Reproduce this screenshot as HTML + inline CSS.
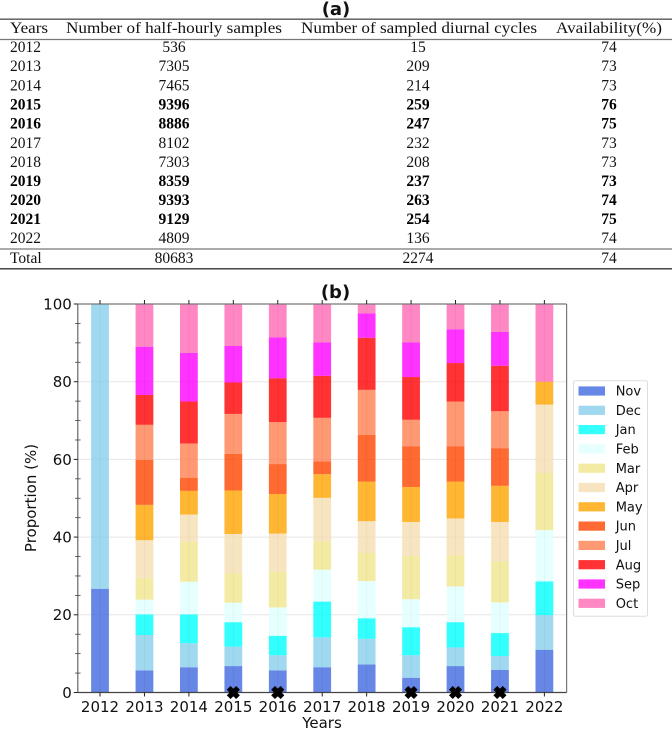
<!DOCTYPE html>
<html lang="en">
<head>
<meta charset="utf-8">
<title>Sample table and monthly proportion chart</title>
<style>
html,body{margin:0;padding:0;background:#fff;width:672px;height:729px;overflow:hidden}
svg{display:block}
.tb{font-family:"Liberation Serif",serif;font-size:15.5px;fill:#111}
.tb text{text-anchor:middle}
.tb .first{text-anchor:start}
.b{font-weight:bold;fill:#000}
.ax{font-family:"DejaVu Sans",sans-serif;fill:#111}
</style>
</head>
<body>
<svg id="root" width="672" height="729" viewBox="0 0 672 729" xmlns="http://www.w3.org/2000/svg">
  <text x="336" y="15" text-anchor="middle" font-family="'DejaVu Sans',sans-serif" font-weight="bold" font-size="18" fill="#111">(a)</text>
  <g class="tb">
    <line x1="0" x2="672" y1="19.2" y2="19.2" stroke="#555" stroke-width="1.4"/>
    <line x1="0" x2="672" y1="39.5" y2="39.5" stroke="#777" stroke-width="1.2"/>
    <line x1="0" x2="672" y1="249" y2="249" stroke="#555" stroke-width="1"/>
    <line x1="0" x2="672" y1="268.8" y2="268.8" stroke="#333" stroke-width="1.4"/>
    <g>
      <text class="first" x="10" y="33" textLength="38" lengthAdjust="spacingAndGlyphs">Years</text>
      <text x="174" y="33" textLength="216" lengthAdjust="spacingAndGlyphs">Number of half-hourly samples</text>
      <text x="419" y="33" textLength="236" lengthAdjust="spacingAndGlyphs">Number of sampled diurnal cycles</text>
      <text x="609" y="33" textLength="106" lengthAdjust="spacingAndGlyphs">Availability(%)</text>
    </g>
    <g><text class="first" x="10" y="52">2012</text><text x="174" y="52">536</text><text x="418" y="52">15</text><text x="609" y="52">74</text></g>
    <g><text class="first" x="10" y="71">2013</text><text x="174" y="71">7305</text><text x="418" y="71">209</text><text x="609" y="71">73</text></g>
    <g><text class="first" x="10" y="90.5">2014</text><text x="174" y="90.5">7465</text><text x="418" y="90.5">214</text><text x="609" y="90.5">73</text></g>
    <g class="b"><text class="first" x="10" y="109.5">2015</text><text x="174" y="109.5">9396</text><text x="418" y="109.5">259</text><text x="609" y="109.5">76</text></g>
    <g class="b"><text class="first" x="10" y="128.5">2016</text><text x="174" y="128.5">8886</text><text x="418" y="128.5">247</text><text x="609" y="128.5">75</text></g>
    <g><text class="first" x="10" y="148">2017</text><text x="174" y="148">8102</text><text x="418" y="148">232</text><text x="609" y="148">73</text></g>
    <g><text class="first" x="10" y="167">2018</text><text x="174" y="167">7303</text><text x="418" y="167">208</text><text x="609" y="167">73</text></g>
    <g class="b"><text class="first" x="10" y="186">2019</text><text x="174" y="186">8359</text><text x="418" y="186">237</text><text x="609" y="186">73</text></g>
    <g class="b"><text class="first" x="10" y="205">2020</text><text x="174" y="205">9393</text><text x="418" y="205">263</text><text x="609" y="205">74</text></g>
    <g class="b"><text class="first" x="10" y="224">2021</text><text x="174" y="224">9129</text><text x="418" y="224">254</text><text x="609" y="224">75</text></g>
    <g><text class="first" x="10" y="243">2022</text><text x="174" y="243">4809</text><text x="418" y="243">136</text><text x="609" y="243">74</text></g>
    <g><text class="first" x="10" y="263">Total</text><text x="174" y="263">80683</text><text x="418" y="263">2274</text><text x="609" y="263">74</text></g>
  </g>
  <text x="335.5" y="298" text-anchor="middle" font-family="'DejaVu Sans',sans-serif" font-weight="bold" font-size="18" fill="#111">(b)</text>
  <g id="chart"></g>
</svg>
<script>
const years = ['2012','2013','2014','2015','2016','2017','2018','2019','2020','2021','2022'];
const months = ['Nov','Dec','Jan','Feb','Mar','Apr','May','Jun','Jul','Aug','Sep','Oct'];
const monthColors = ['royalblue','skyblue','cyan','lightcyan','khaki','wheat','orange','orangered','coral','red','magenta','hotpink'];
const nov = [26.7,5.7,6.5,6.8,5.7,6.5,7.2,3.8,6.8,5.8,11];
const dec = [73.3,9.1,6.2,5.0,3.9,7.7,6.6,5.8,4.8,3.6,8.9];
const jan = [0,5.3,7.4,6.3,5.0,9.2,5.3,7.2,6.5,5.9,8.7];
const feb = [0,3.8,8.4,5.0,7.3,8.2,9.6,7.2,9.2,7.9,13.2];
const mar = [0,5.6,10.3,7.6,9.2,7.3,7.3,11.2,8.0,10.5,14.7];
const apr = [0,9.7,7.0,10.1,9.8,11.2,8.1,8.7,9.5,10.2,17.6];
const may = [0,9.1,6.1,11.2,10.2,6.1,10.2,9.0,9.5,9.3,5.9];
const jun = [0,11.6,3.4,9.4,7.7,3.3,12.0,10.5,9.1,9.7,0];
const jul = [0,9.0,8.8,10.3,10.8,11.2,11.6,6.8,11.5,9.5,0];
const aug = [0,7.7,10.8,8.1,11.3,10.8,13.4,11.0,9.9,11.7,0];
const sep = [0,12.4,12.5,9.4,10.5,8.6,6.3,8.9,8.7,8.7,0];
const oct = [0,11.0,12.6,10.8,8.6,9.9,2.4,9.9,6.5,7.2,20.0];
const series = [nov,dec,jan,feb,mar,apr,may,jun,jul,aug,sep,oct];
const markedYears = ['2015','2016','2019','2020','2021'];
const yMajorTicks = [0,20,40,60,80,100];
const yMinorTicks = [5,10,15,25,30,35,45,50,55,65,70,75,85,90,95];

const NS = 'http://www.w3.org/2000/svg';
const chart = document.getElementById('chart');
const plot = {left:77.8, right:566.6, top:304, bottom:692.5};
function xScale(i){ return plot.left + (i + 0.5) * (plot.right - plot.left) / years.length; }
function yScale(v){ return plot.bottom - v * (plot.bottom - plot.top) / 100; }
function mk(tag, attrs, parent){
  const el = document.createElementNS(NS, tag);
  for (const k in attrs) el.setAttribute(k, attrs[k]);
  (parent || chart).appendChild(el);
  return el;
}
const bandW = (plot.right - plot.left) / years.length * 0.4;

// gridlines
yMajorTicks.slice(1, -1).forEach(function(t){
  const g = mk('line', {x1:plot.left, x2:plot.right, y1:yScale(t), y2:yScale(t), stroke:'#000', 'stroke-opacity':0.1, 'stroke-width':1});
  
  
});
years.forEach(function(y, i){
  const g = mk('line', {x1:xScale(i), x2:xScale(i), y1:plot.top, y2:plot.bottom, stroke:'#000', 'stroke-opacity':0.16, 'stroke-width':1});
  
  
});

// stacked bars
years.forEach(function(y, i){
  let base = 0;
  series.forEach(function(vals, s){
    const v = vals[i];
    if (v > 0) {
      const r = mk('rect', {x:xScale(i) - bandW / 2, width:bandW, y:yScale(base + v), height:yScale(base) - yScale(base + v), fill:monthColors[s], 'fill-opacity':0.8});
      
      
    }
    base += v;
  });
});

// spines
const spineTop = mk('line', {x1:plot.left, x2:plot.right, y1:plot.top, y2:plot.top, stroke:'#777', 'stroke-width':1.2});


const spineRight = mk('line', {x1:plot.right, x2:plot.right, y1:plot.top, y2:plot.bottom, stroke:'#777', 'stroke-width':1.2});


const spineLeft = mk('line', {x1:plot.left, x2:plot.left, y1:plot.top, y2:plot.bottom, stroke:'#666', 'stroke-width':1.2});


const spineBottom = mk('line', {x1:plot.left, x2:plot.right, y1:plot.bottom, y2:plot.bottom, stroke:'#444', 'stroke-width':1.2});



// y ticks
yMajorTicks.forEach(function(t){
  const l = mk('line', {x1:plot.left - 4, x2:plot.left, y1:yScale(t), y2:yScale(t), stroke:'#222', 'stroke-width':1});
  
  
  const tx = mk('text', {x:plot.left - 6, y:yScale(t) + 5.4, 'text-anchor':'end', 'font-size':15, class:'ax'});
  tx.textContent = String(t);
  
  
});
yMinorTicks.forEach(function(t){
  const l = mk('line', {x1:plot.left - 2.8, x2:plot.left + 2.8, y1:yScale(t), y2:yScale(t), stroke:'#444', 'stroke-width':0.8});
  
  
});

// x ticks
years.forEach(function(y, i){
  const b = mk('line', {x1:xScale(i), x2:xScale(i), y1:plot.bottom, y2:plot.bottom + 4, stroke:'#222', 'stroke-width':1});
  
  
  const t = mk('line', {x1:xScale(i), x2:xScale(i), y1:plot.top - 4, y2:plot.top, stroke:'#222', 'stroke-width':1});
  
  
  const tx = mk('text', {x:xScale(i), y:plot.bottom + 19.5, 'text-anchor':'middle', 'font-size':15, class:'ax'});
  tx.textContent = y;
  
  
});

// X markers at zero for selected years
markedYears.forEach(function(y){
  const cx = xScale(years.indexOf(y)), cy = yScale(0);
  const a = 6.3, n = 3.5;
  const pts = [[-a,-a+n],[-a+n,-a],[0,-n],[a-n,-a],[a,-a+n],[n,0],[a,a-n],[a-n,a],[0,n],[-a+n,a],[-a,a-n],[-n,0]];
  const p = mk('polygon', {points:pts.map(function(q){return (cx+q[0])+','+(cy+q[1]);}).join(' '), fill:'#000', stroke:'#000', 'stroke-width':0.5});
  
  
});

// axis titles
const xTitle = mk('text', {x:322, y:728, 'text-anchor':'middle', 'font-size':15, class:'ax'});
xTitle.textContent = 'Years';


const yTitle = mk('text', {x:0, y:0, transform:'translate(36,498) rotate(-90)', 'text-anchor':'middle', 'font-size':15, class:'ax'});
yTitle.textContent = 'Proportion (%)';



// legend
const legend = mk('g', {});


const frame = mk('rect', {x:573.5, y:380.7, width:74, height:235.5, rx:2, fill:'#fff', stroke:'#ddd', 'stroke-width':1}, legend);


months.forEach(function(m, i){
  const cy = 391 + i * 19.3;
  const entry = mk('g', {}, legend);
  
  
  const sw = mk('rect', {x:578.5, y:cy - 4.6, width:26.5, height:9.2, fill:monthColors[i], 'fill-opacity':0.8}, entry);
  
  
  const tx = mk('text', {x:615.7, y:cy + 4.6, 'font-size':13, class:'ax'}, entry);
  tx.textContent = m;
  
  
});
</script>
</body>
</html>
